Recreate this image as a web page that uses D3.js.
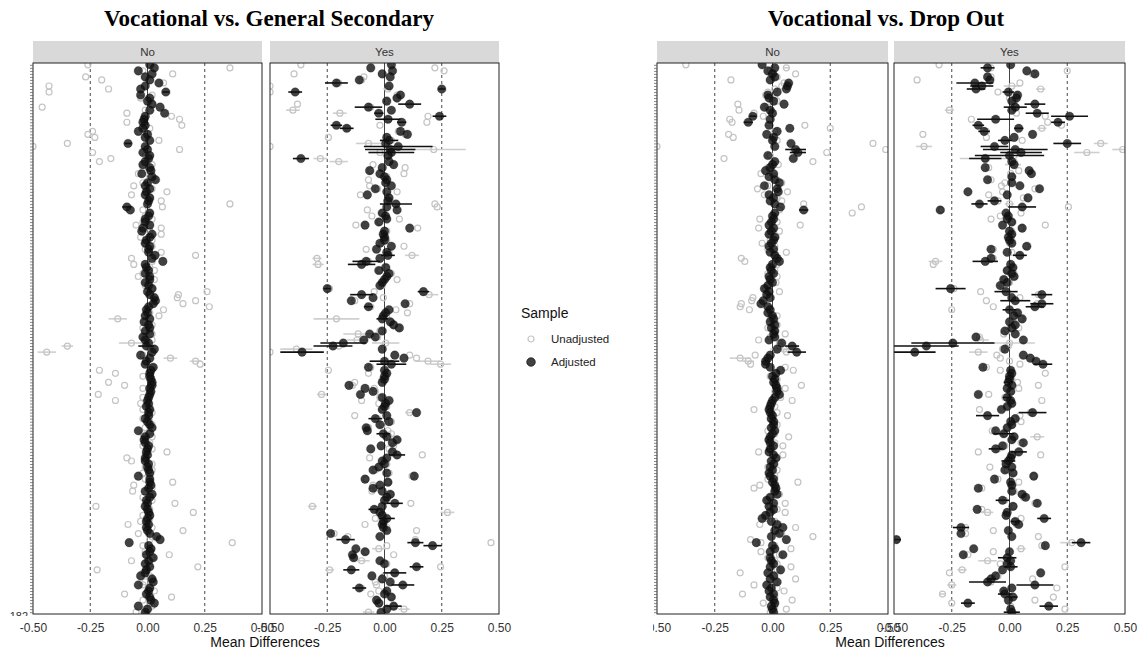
<!DOCTYPE html>
<html>
<head>
<meta charset="utf-8">
<script src="https://cdn.jsdelivr.net/npm/d3@7"></script>
<style>
  body { margin: 0; background: #fff; }
  svg { display: block; }
  text { font-family: "Liberation Sans", Arial, sans-serif; }
  .title { font-family: "Liberation Serif", "Times New Roman", serif; font-weight: bold; font-size: 23px; fill: #000; }
  .strip-label { font-size: 11.5px; fill: #333; }
  .tick text { font-size: 12px; fill: #333; }
  .axis-title { font-size: 14px; fill: #111; }
</style>
</head>
<body>
<div id="wrapper"></div>
<script>
// ---- data: one value per item row (top to bottom) ----

// Vocational vs. General Secondary, facet "No"
const noGenAdj = [
  .01, .03,-.04, .02,-.01, .01, .05,-.01,-.03, .08,
 -.03, .01, 0, .02, .055, .01, .075,-.01,-.015,-.02,
 -.01,-.02,-.04, 0,-.01, .01,-.085,-.01, 0,-.02,
  .01, .005,-.01,-.02, .01, .015,-.025, .02, .035, 0,
 -.01, .01,-.005,-.01, .01, .005, 0,-.09,-.075, .01,
  .005,-.01,-.01, .01,-.02,-.025, .02, .01,-.005,-.01,
  .01, .005, .005, .033, .02, .067,-.01,-.005, .005,-.01,
  .01, .01,-.01, .005, .02, 0, .01, .03, .035, .025,
  .005,-.005, 0,-.01, .01,-.015, .005, .01,-.01, .01,
 -.02,-.01, .005,-.005, .03, .02,-.03, .01,-.005,-.01,
  .025, .015, .01, .01, .015, .02, .02, .01, .015, .01,
  .005, 0, .005,-.005, .01, .005, .005,-.01, 0, .01,
  .02,-.04, .01,-.01,-.015,-.01, .005, 0,-.005, 0,
 -.01,-.01, .005, 0, .005, .01,-.04, .01, .01, .015,
  .005,-.01, .02, .01,-.005, 0,-.01, 0, .005, .01,
  0,-.005, .005,-.005, 0, .01, .04, .055,-.08, .005,
  .015, .01,-.005, .025, .005,-.01, .01,-.005,-.01,-.03,
  .02, .025,-.04, .01, .005,-.005, .01, .015, .03,-.04,
  0,-.01]
const noGenUnadj = [
 -.26, .36,-.02, .11,-.27,-.2, .07,-.43,-.17,-.43,
  .02,-.03, .01, .02,-.46,-.01,-.09, .105, .14,-.09,
  .15, .01,-.24,-.26,-.23, .05,-.35,-.5, .14,-.24,
 -.01,-.16,-.21, .02,-.02, .01,-.04, .01, .02,-.02,
 -.06, .02, .085,-.07, .01, .06, .36, .065,-.02, .01,
 -.01, .02,-.02,-.05, .06, .01, .06,-.03, .02,-.01,
  .02,-.01, .06, .21,-.07, .02,-.06, .01, .03,-.02,
 -.04, .03, .01,-.01, .02, .26, .135, .13, .21, .155,
  .27, .07, .01, .05,-.13,-.01, .02,-.02, .01, .02,
 -.01, .02,-.07,-.35, .01,-.44,-.02, .1, .21, .23,
  .02,-.21,-.14,-.02, .01,-.17,-.1,-.02, .01,-.215,
 -.02,-.14,-.03, .01,-.02, .02, .01,-.02, .01, .02,
 -.01, .01,-.02, .02,-.01, .01,-.02, .02, .085,-.01,
 -.09,-.07, .02,-.01, .02,-.02, .01,-.01, .11,-.06,
  .02,-.065, .01,-.02, .02, .12,-.225, .01, .2,-.02,
  .01,-.03,-.085, .02, .155,-.04, .02, .01, .37,-.02,
  .02,-.01, .095, .02,-.07, .01, .22,-.22,-.02, .01,
  .02,-.01,-.02, .01, .03,-.1, .105,-.02, .01, .02,
 -.01,-.05]
// [row, half width] of the visible confidence bars
const noGenAdjErr = [[9, .015], [26, .015], [47, .02], [93, .035]]
const noGenUnadjErr = [[84, .04], [92, .055], [93, .025], [95, .04], [97, .03], [98, .025]]

// Vocational vs. General Secondary, facet "Yes"
const yesGenAdj = [
  .03,-.06, .035,-.01, .025,-.11,-.21, .02, .25,-.39,
  .07, .055, .01, .11,-.07, .03,-.025, .24, .015, .075,
 -.21,-.165, .07, .1, .01, .02, .005, .06, .025, .03,
  .015,-.365, .02, .04,-.01,-.065,-.02, 0, .01, .005,
  .03,-.04, .01,-.075, .02, .015, .05, .01, .055,-.01,
  .005, .01,-.025,-.085, .11, 0,-.005, 0, 0,-.02,
  .03,-.035, .01, .015,-.02,-.08,-.1, .005,-.025, .02,
  .01, 0,-.01,-.02,-.25, .17,-.1,-.05,-.145, .09,
 -.07, .02, .005,-.005,-.01, .025, .04, .065,-.01,-.065,
 -.04,-.09,-.18,-.225,-.01,-.36, .045, .085, 0, .03,
 -.07, 0, .01, 0, 0,-.01,-.155,-.085,-.05,-.105,
 -.01, .02, .005, 0,-.01, .14, .01,-.04, .02,-.02,
 -.08,-.075,-.005, .01, .055, .035,-.015,-.06, .035, .055,
  .01,-.01, 0,-.025,-.05, .01, .13,-.085, .015,-.02,
 -.05,-.01, .025, .01, 0, .045,-.01,-.045,-.02,-.01,
  .01,-.005,-.01,-.005, .01,-.235,-.02,-.17, .135, .21,
 -.125,-.085,-.14,-.135,-.02, 0, .14,-.145, .045,-.055,
 -.01, .025, .08,-.11, .01, 0, .03,-.035,-.025, .04,
  .01,-.015]
const yesGenUnadj = [
 -.365, .22, .26,-.395,-.09,-.1,-.2,-.5, .015,-.5,
  .055, .05, .005,-.38,-.06,-.4,-.195, .19, .02, .185,
 -.02,-.16, .06, .09,-.245, .03,-.07,-.5, .215,-.02,
  .02,-.28,-.2,-.05, .09,-.06, .085, .01,-.07, .01,
 -.065,-.03, .055,-.105, .02, .01, .22, .23,-.075,-.01,
 -.055, .065,-.02,-.125, .145, .01,-.01, .005, .01,-.01,
  .085,-.08, .02, .12,-.295,-.07,-.29, .01,-.02, .03,
  .01, .055,-.01,-.01,-.24,-.045, .195,-.005,-.13, .11,
 -.06, .05, .1, .01,-.21, .03, .04, .06,-.02,-.115,
 -.03,-.12, .005,-.2,-.385,-.5, .11, .14, .19, .245,
 -.06,-.245,-.07, .01,-.01,-.13,-.14,-.045,-.04,-.275,
 -.02,-.1,-.025, .01,-.01, .11,-.13,-.03, .03,-.01,
 -.07, .015, .03, .02, .05, .03, .04, .02, .03, .165,
 -.065, 0, .01,-.02,-.04, .02, .12,-.08, .015,-.05,
 -.04,-.055, .03, .01, .01, .115,-.315,-.04, .275,-.01,
 -.04, 0,-.085, .01, .14,-.22,-.16, .135, .465, .01,
 -.025,-.08, .04,-.13,-.1, .01, .245,-.24, .04, 0,
 -.01,-.04,-.035,-.1,-.025,-.06, .03,-.03,-.02, .04,
  .085,-.07]
const yesGenAdjErr = [[6, .05], [8, .015], [9, .03], [13, .05], [14, .06], [16, .02], [17, .03], [18, .055],
  [19, .02], [20, .025], [21, .03], [25, .04], [27, .15], [28, .11], [29, .1], [31, .035], [46, .07],
  [63, .03], [65, .06], [66, .06], [74, .015], [75, .025], [76, .05], [80, .02], [84, .025], [92, .1],
  [93, .085], [95, .095], [98, .065], [99, .065], [117, .03], [122, .03], [129, .035], [145, .035],
  [147, .025], [150, .035], [157, .04], [158, .035], [159, .04], [166, .03], [167, .035], [168, .05],
  [172, .05], [173, .03], [179, .035]]
const yesGenUnadjErr = [[8, .02], [15, .03], [16, .03], [26, .055], [28, .14], [29, .05], [31, .03],
  [32, .04], [63, .03], [64, .02], [66, .025], [76, .04], [84, .1], [89, .065], [91, .045], [92, .06],
  [94, .07], [98, .055], [99, .045], [109, .02], [115, .02], [146, .02], [148, .03], [160, .03],
  [164, .035], [167, .02], [180, .025], [181, .025]]

// Vocational vs. Drop Out, facet "No"
const noDropAdj = [
 -.045, .01,-.02, 0, .01,-.01, .07, .065, .06, .02,
 -.02,-.015, .005, .05,-.035,-.01, 0,-.085,-.01,-.105,
 -.015, .075, .02,-.025, .005, 0, .08, .01, .1, .11,
 -.02, .09, .01, 0,-.01,-.03, .005,-.015, .01, .03,
 -.035, .02, .025,-.015, .005,-.01, .01, .035, .135, .01,
  0, .005,-.005,-.015, .005,-.005,-.015, .01, .005,-.005,
 -.015, .005,-.01, .01, .02, .03, 0,-.01,-.005, .005,
 -.015,-.01, 0,-.02,-.035,-.015,-.025,-.01,-.04,-.05,
 -.02,-.01,-.02, 0, .005,-.01, .01,-.005, .01, .005,
  .01,-.015, .04, .085, .02, .105,-.01,-.02,-.03,-.03,
 -.01, .035, .015, 0, .01, .005, .015, .02, .02, .03,
  .01, 0,-.005,-.01,-.015,-.01, 0,-.005, .005, .005,
 -.005, .01, 0,-.01,-.015,-.01, .005,-.01,-.015, .005,
  .015,-.005, .005,-.01, 0,-.015,-.01, .005, 0, .01,
  .015, .01, .02,-.01,-.025, .005,-.015, .005,-.01,-.03,
 -.045,-.005, .02, .045, .01, .03,-.005, .06,-.07, 0,
  .01,-.01, .045,-.01,-.005, .005,-.01, .035,-.02, .005,
 -.01, .02,-.025,-.005,-.015, .005,-.01, .005, .01,-.005,
  0, .005]
const noDropUnadj = [
 -.375, .06,-.01, .1, .02,-.18, .05, .04, .01,-.02,
 -.03, .01, .02,-.15,-.02,-.145,-.08,-.04,-.185,-.175,
  .14, .25, .01,-.19,-.17, .02, .435,-.5, .49, .235,
 -.01,-.21, .175, .025,-.02,-.01,-.05, .01, .02, .04,
 -.02,-.065, .065,-.035, .02, .04, .135, .385, .03, .345,
  .01,-.055, .02, .12,-.06, .03,-.01, .015,-.01,-.045,
  .01,-.02, .06, .01,-.135,-.12, .02,-.01, .01,-.02,
  .02,-.01, .015,-.02,-.03, .03,-.02,-.085,-.09,-.135,
 -.14,-.1,-.01, .02,-.01, .01, .02,-.02, .01, .055,
 -.01,-.06, .03, .03, .05, .06,-.075,-.14,-.105,-.095,
  .055, .09, .01,-.01, .02, .01, .125, .055, .01, .02,
  .035, .085,-.01, .01,-.08, .02, .065,-.01, .01, .02,
 -.01,-.02, .01, .07,-.02, .01, .045,-.01,-.06, .045,
  .02,-.01, .01,-.02, .02,-.01, .01,-.02, .11,-.055,
 -.08, .01, .03,-.01,-.02, .055,-.01, .02, .055,-.02,
 -.03, .01,-.055, .1, .02, .04, .175,-.095,-.05, .01,
  .08,-.05, .03,-.02, .01, .02, .08, .02,-.14, .01,
  .1, .01,-.08, .02, .05,-.13, .01, .085,-.04, .01,
  .06,-.01]
const noDropAdjErr = [[17, .015], [19, .02], [28, .045], [29, .035], [48, .02], [93, .03], [95, .04]]
const noDropUnadjErr = [[1, .015], [94, .06], [97, .045], [98, .025]]

// Vocational vs. Drop Out, facet "Yes"
const yesDropAdj = [
  .005,-.095, .075, .11,-.095,-.085,-.15,-.12,-.145,-.005,
  .035, .03, .01, .11, .025, .01, .12, .26,-.06, .21,
 -.135, .04,-.11, .1, .02,-.02, .25,-.065, .025, .05,
  0,-.105, .01, .02,-.105, .085, .095, .01,-.095, .01,
  .045, .13,-.18,-.01, .08,-.065,-.13, .055,-.3,-.015,
 -.005,-.01, .01,-.03, .055, 0, .01,-.005, 0, .01,
  .075,-.08,-.01, .045,-.08,-.105, .005, .015,-.01, .01,
  .02,-.025,-.01,-.04,-.255,-.015, .14, .01, .025, .14,
  .11, 0, .035, .02, .055, 0, .025, .01,-.02, .025,
 -.145, .06,-.245,-.36,-.02,-.41, .06, .09, .115, .145,
 -.115, .005, .01, 0, 0,-.005, .01,-.01, .005,-.135,
 -.01, .005, .01,-.01,-.035, .1,-.095, .025, .005, .01,
 -.01,-.06,-.025, .02, .01, .06,-.03,-.06, .04, .01,
  .005,-.005,-.015, .01,-.02, .015, .105,-.065, .005, .01,
 -.135, .01, .055, .07,-.03, .12, .015,-.14,-.01,-.015,
  .15, .025, .04,-.21,-.005,-.21, .01,-.49, .31, .155,
 -.155, 0,-.2,-.01, .005,-.01, .005,-.03, .135,-.06,
 -.08,-.095, .11, .01,-.025,-.02, .015,-.005,-.18, .17,
  .005, .01]
const yesDropUnadj = [
 -.305,-.08, .25, .1,-.08,-.4, .045, .01, .135,-.05,
  .03, 0, .02, .02, .03,-.26, .03, .155,-.165, .165,
  .225, .14,-.1,-.375,-.1, .055, .395,-.37, .49, .335,
  .02,-.105, .02, .015,-.09, .04, .005, .01,-.08,-.02,
 -.035, .11,-.03,-.09, .06,-.05, 0, .255,-.295, .05,
 -.04,-.08, .01, .155, .05, .01, .01, .005, .01, 0,
  .07,-.07, .01, .04,-.07,-.32,-.33, .01,-.01, .02,
  .02,-.02, 0,-.03,-.24,-.125, .125, .045,-.1, .12,
 -.07,-.25, .03, .02, .05, .01, .02, .04,-.01,-.025,
 -.13,-.125, 0,-.005,-.03,-.135,-.055,-.04, 0, .045,
 -.1,-.04, .155, .01, .01, .035, .125, .04, .01,-.09,
 -.02, .14, .01,-.01,-.13, .09, .045, .02, .05, .01,
 -.01,-.075,-.02, .12, .01, .05,-.02,-.05,-.135, .135,
  .01, 0,-.01,-.085,-.01, .02, .105,-.05, .04, .01,
 -.12, .02, .05, .06,-.02, .11, .02,-.12,-.095,-.01,
  .05, .02, .03,-.19,-.07,-.19, .125,-.485, .27, .14,
  .05,-.07,-.18,-.01,-.095,-.04, .24,-.205,-.26,-.05,
  .1,-.08,-.25, .205,-.02,-.29, .19, .11,-.25, .005,
  .24, .01]
const yesDropAdjErr = [[1, .03], [6, .08], [7, .05], [8, .04], [9, .025], [13, .045], [14, .05], [16, .05],
  [17, .08], [18, .08], [19, .03], [20, .025], [21, .02], [22, .025], [25, .03], [26, .06], [27, .06],
  [28, .14], [29, .09], [30, .15], [31, .07], [45, .03], [46, .035], [47, .06], [63, .03], [65, .055],
  [74, .065], [75, .05], [76, .045], [78, .065], [79, .05], [80, .04], [81, .03], [92, .18], [93, .14],
  [95, .09], [99, .04], [105, .02], [110, .02], [115, .06], [116, .05], [122, .045], [127, .03],
  [128, .035], [131, .03], [144, .03], [150, .03], [151, .02], [153, .035], [157, .02], [158, .04],
  [163, .04], [166, .03], [170, .02], [171, .08], [172, .08], [175, .03], [176, .02], [178, .03],
  [179, .04], [181, .035]]
const yesDropUnadjErr = [[7, .035], [8, .02], [15, .02], [21, .02], [26, .03], [27, .035], [28, .045],
  [29, .055], [31, .11], [33, .035], [46, .02], [65, .03], [91, .035], [92, .11], [95, .04], [123, .03],
  [148, .025], [158, .05], [160, .02], [164, .04], [167, .02], [172, .02], [175, .015]]

const xTickValues = [-0.5, -0.25, 0, 0.25, 0.5]
const guideValues = [-0.25, 0.25]
const sampleLabels = ["Unadjusted", "Adjusted"]

// ---- layout ----
const width = 1141
const height = 657
const stripTop = 41
const panelTop = 63
const panelBottom = 614

const rowIds = noGenAdj.map((d, i) => i + 1)

const plots = [
  {
    title: "Vocational vs. General Secondary", titleX: 269, axisTitleX: 265, clipLeft: 0,
    panels: [
      { label: "No", x0: 33, x1: 262, adj: noGenAdj, unadj: noGenUnadj, adjErr: noGenAdjErr, unadjErr: noGenUnadjErr },
      { label: "Yes", x0: 270, x1: 499, adj: yesGenAdj, unadj: yesGenUnadj, adjErr: yesGenAdjErr, unadjErr: yesGenUnadjErr }
    ]
  },
  {
    title: "Vocational vs. Drop Out", titleX: 886, axisTitleX: 890, clipLeft: 653,
    panels: [
      { label: "No", x0: 657, x1: 888, adj: noDropAdj, unadj: noDropUnadj, adjErr: noDropAdjErr, unadjErr: noDropUnadjErr },
      { label: "Yes", x0: 894, x1: 1125, adj: yesDropAdj, unadj: yesDropUnadj, adjErr: yesDropAdjErr, unadjErr: yesDropUnadjErr }
    ]
  }
]

const svg = d3.select("#wrapper")
  .append("svg")
    .attr("width", width)
    .attr("height", height)

const defs = svg.append("defs")

const y = d3.scalePoint()
  .domain(rowIds)
  .range([panelTop, panelBottom])
  .padding(0.6)

const greyColor = "#c4c4c4"
const darkColor = "#111"

plots.forEach((plot, pi) => {
  // each plot is its own image, clipped on the left
  const clipId = `plot-clip-${pi}`
  defs.append("clipPath").attr("id", clipId)
    .append("rect")
      .attr("x", plot.clipLeft)
      .attr("y", 0)
      .attr("width", pi == 0 ? 520 : width - plot.clipLeft)
      .attr("height", height)

  const g = svg.append("g").attr("clip-path", `url(#${clipId})`)

  g.append("text")
    .attr("class", "title")
    .attr("x", plot.titleX)
    .attr("y", 26)
    .attr("text-anchor", "middle")
    .text(plot.title)

  plot.panels.forEach((panel, k) => {
    const x = d3.scaleLinear().domain([-0.5, 0.5]).range([panel.x0, panel.x1])

    // strip
    g.append("rect")
      .attr("x", panel.x0)
      .attr("y", stripTop)
      .attr("width", panel.x1 - panel.x0)
      .attr("height", panelTop - stripTop)
      .attr("fill", "#d9d9d9")
    g.append("text")
      .attr("class", "strip-label")
      .attr("x", (panel.x0 + panel.x1) / 2)
      .attr("y", (stripTop + panelTop) / 2 + 4)
      .attr("text-anchor", "middle")
      .text(panel.label)

    const pid = `panel-clip-${pi}-${k}`
    defs.append("clipPath").attr("id", pid)
      .append("rect")
        .attr("x", panel.x0)
        .attr("y", panelTop)
        .attr("width", panel.x1 - panel.x0)
        .attr("height", panelBottom - panelTop)

    const body = g.append("g").attr("clip-path", `url(#${pid})`)

    // zero line and dashed guides
    body.append("line")
      .attr("x1", x(0)).attr("x2", x(0))
      .attr("y1", panelTop).attr("y2", panelBottom)
      .attr("stroke", "#444")
      .attr("stroke-width", 1)
    body.selectAll(".guide")
      .data(guideValues)
      .join("line")
        .attr("class", "guide")
        .attr("x1", d => x(d)).attr("x2", d => x(d))
        .attr("y1", panelTop).attr("y2", panelBottom)
        .attr("stroke", "#333")
        .attr("stroke-width", 0.9)
        .attr("stroke-dasharray", "3,3")

    // unadjusted: grey bars + hollow circles
    body.selectAll(".u-err")
      .data(panel.unadjErr)
      .join("line")
        .attr("class", "u-err")
        .attr("x1", d => x(panel.unadj[d[0]] - d[1]))
        .attr("x2", d => x(panel.unadj[d[0]] + d[1]))
        .attr("y1", d => y(rowIds[d[0]]))
        .attr("y2", d => y(rowIds[d[0]]))
        .attr("stroke", "#cfcfcf")
        .attr("stroke-width", 1.6)
    body.selectAll(".u-pt")
      .data(panel.unadj)
      .join("circle")
        .attr("class", "u-pt")
        .attr("cx", d => x(d))
        .attr("cy", (d, i) => y(rowIds[i]))
        .attr("r", 3)
        .attr("fill", "none")
        .attr("stroke", greyColor)
        .attr("stroke-width", 1.2)

    // adjusted: dark bars + filled circles
    body.selectAll(".a-err")
      .data(panel.adjErr)
      .join("line")
        .attr("class", "a-err")
        .attr("x1", d => x(panel.adj[d[0]] - d[1]))
        .attr("x2", d => x(panel.adj[d[0]] + d[1]))
        .attr("y1", d => y(rowIds[d[0]]))
        .attr("y2", d => y(rowIds[d[0]]))
        .attr("stroke", darkColor)
        .attr("stroke-width", 1.6)
    body.selectAll(".a-pt")
      .data(panel.adj)
      .join("circle")
        .attr("class", "a-pt")
        .attr("cx", d => x(d))
        .attr("cy", (d, i) => y(rowIds[i]))
        .attr("r", 4.3)
        .attr("fill", darkColor)
        .attr("fill-opacity", 0.8)
        .attr("stroke", "#000")
        .attr("stroke-opacity", 0.4)
        .attr("stroke-width", 0.6)

    // panel border
    g.append("rect")
      .attr("x", panel.x0)
      .attr("y", panelTop)
      .attr("width", panel.x1 - panel.x0)
      .attr("height", panelBottom - panelTop)
      .attr("fill", "none")
      .attr("stroke", "#222")
      .attr("stroke-width", 1)

    // x axis labels
    const xAxis = d3.axisBottom(x)
      .tickValues(xTickValues)
      .tickSize(0)
      .tickPadding(9)
      .tickFormat(d => d.toFixed(2))
    g.append("g")
      .attr("transform", `translate(0,${panelBottom})`)
      .call(xAxis)
      .attr("font-size", null)
      .attr("font-family", null)
      .call(a => a.select(".domain").remove())

    // y ticks on the first panel only
    if (k == 0) {
      const yAxis = d3.axisLeft(y).tickSize(3).tickFormat("")
      g.append("g")
        .attr("transform", `translate(${panel.x0},0)`)
        .call(yAxis)
        .call(a => a.select(".domain").remove())
        .call(a => a.selectAll(".tick line").attr("stroke", "#555").attr("stroke-width", 0.7))

      // the last row label shows only partly at the bottom corner
      const labelClip = `label-clip-${pi}`
      defs.append("clipPath").attr("id", labelClip)
        .append("rect")
          .attr("x", 0).attr("y", 0)
          .attr("width", panel.x0 - 3).attr("height", 616)
      g.append("text")
        .attr("clip-path", `url(#${labelClip})`)
        .attr("x", panel.x0 - 5)
        .attr("y", y(rowIds[rowIds.length - 1]) + 8)
        .attr("text-anchor", "end")
        .attr("font-size", 11)
        .attr("fill", "#333")
        .text(rowIds[rowIds.length - 1])
    }
  })

  g.append("text")
    .attr("class", "axis-title")
    .attr("x", plot.axisTitleX)
    .attr("y", 647)
    .attr("text-anchor", "middle")
    .text("Mean Differences")
})

// legend
const legend = svg.append("g").attr("transform", "translate(521,318)")
legend.append("text")
  .attr("font-size", 14)
  .attr("fill", "#111")
  .text("Sample")
const keys = legend.selectAll(".key")
  .data(sampleLabels)
  .join("g")
    .attr("class", "key")
    .attr("transform", (d, i) => `translate(0,${21 + i * 23})`)
keys.append("circle")
  .attr("cx", 10)
  .attr("cy", 0)
  .attr("r", (d, i) => i == 0 ? 3 : 4.3)
  .attr("fill", (d, i) => i == 0 ? "none" : darkColor)
  .attr("fill-opacity", 0.8)
  .attr("stroke", (d, i) => i == 0 ? greyColor : "#000")
  .attr("stroke-width", (d, i) => i == 0 ? 1.2 : 0.6)
keys.append("text")
  .attr("x", 30)
  .attr("y", 4)
  .attr("font-size", 11.5)
  .attr("fill", "#222")
  .text(d => d)
</script>
</body>
</html>
